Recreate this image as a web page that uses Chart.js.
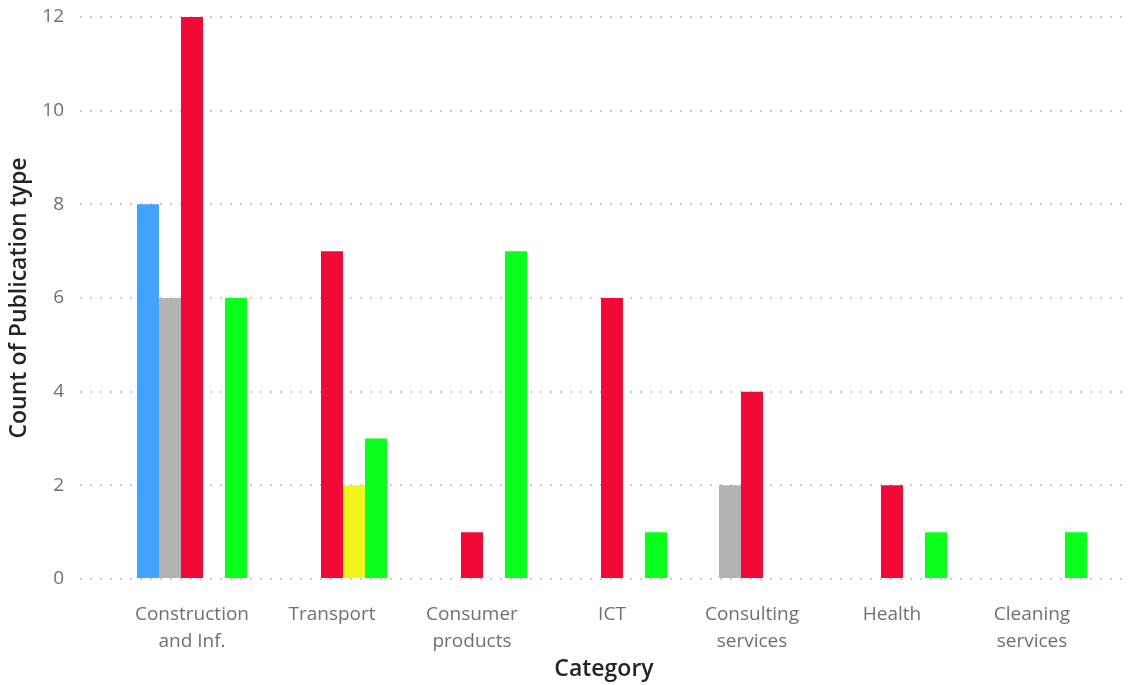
<!DOCTYPE html>
<html>
<head>
<meta charset="utf-8">
<title>Count of Publication type by Category</title>
<script src="https://cdn.jsdelivr.net/npm/chart.js@4/dist/chart.umd.min.js"></script>
<style>
  html, body { margin: 0; padding: 0; background: #fff; }
  #wrap { width: 1131px; height: 685px; }
</style>
</head>
<body>
<div id="wrap"><canvas id="pubChart" width="1131" height="685"></canvas></div>
<script>
// categories on the x axis (split into lines the way they wrap)
const categories = [
  ['Construction', 'and Inf.'],
  ['Transport'],
  ['Consumer', 'products'],
  ['ICT'],
  ['Consulting', 'services'],
  ['Health'],
  ['Cleaning', 'services']
];

// one array per publication type, null = no publications
const blueCounts   = [8, null, null, null, null, null, null];
const greyCounts   = [6, null, null, null, 2, null, null];
const redCounts    = [12, 7, 1, 6, 4, 2, null];
const yellowCounts = [null, 2, null, null, null, null, null];
const greenCounts  = [6, 3, 7, 1, null, 1, 1];

const yTicks = [0, 2, 4, 6, 8, 10, 12];

const labelFont = { family: '"Segoe UI", "Open Sans", "Noto Sans", sans-serif', size: 19 };
const titleFont = { family: '"Segoe UI Semibold", "Open Sans", "Noto Sans", sans-serif', size: 23, weight: '600' };

function series(data, color) {
  return {
    data: data,
    backgroundColor: color,
    borderWidth: 0,
    categoryPercentage: 0.786,
    barPercentage: 1.0
  };
}

const ctx = document.getElementById('pubChart').getContext('2d');
const pubChart = new Chart(ctx, {
  type: 'bar',
  data: {
    labels: categories.map((_, i) => i),
    datasets: [
      series(blueCounts, '#41a3ff'),
      series(greyCounts, '#b3b3b3'),
      series(redCounts, '#f20a37'),
      series(yellowCounts, '#f0f51c'),
      series(greenCounts, '#0bff1c')
    ]
  },
  options: {
    responsive: false,
    animation: false,
    layout: { padding: { top: 17, right: 3, left: 0, bottom: 0 } },
    plugins: {
      legend: { display: false },
      tooltip: { enabled: false }
    },
    scales: {
      x: {
        type: 'linear',
        offset: false,
        min: -0.8,
        max: 6.686,
        grid: { display: false },
        border: { display: false },
        afterBuildTicks: (scale) => {
          scale.ticks = categories.map((_, i) => ({ value: i }));
        },
        afterFit: (scale) => {
          scale.height = 106;
          scale.paddingLeft = 0;
          scale.paddingRight = 0;
        },
        ticks: {
          autoSkip: false,
          maxRotation: 0,
          padding: 14,
          color: '#707070',
          font: { ...labelFont, lineHeight: 1.42 },
          callback: (value) => categories[value]
        },
        title: {
          display: true,
          text: 'Category',
          color: '#252423',
          font: titleFont,
          padding: { top: 0, bottom: 2 }
        }
      },
      y: {
        min: 0,
        max: 12,
        afterBuildTicks: (scale) => {
          scale.ticks = yTicks.map(v => ({ value: v }));
        },
        afterFit: (scale) => {
          scale.width = 80;
          scale.paddingTop = 0;
          scale.paddingBottom = 0;
        },
        grid: {
          color: '#cccccc',
          lineWidth: 2,
          drawTicks: false
        },
        border: { display: false, dash: [2, 8] },
        ticks: {
          padding: 16,
          color: '#707070',
          font: labelFont
        },
        title: {
          display: true,
          text: 'Count of Publication type',
          color: '#252423',
          font: titleFont,
          padding: { top: 6, bottom: 4 }
        }
      }
    }
  }
});
</script>
</body>
</html>
